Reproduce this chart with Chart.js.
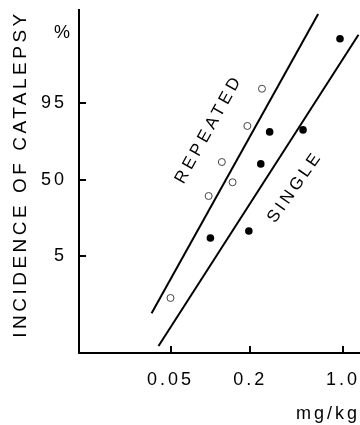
<!DOCTYPE html>
<html>
<head>
<meta charset="utf-8">
<script src="https://cdn.jsdelivr.net/npm/chart.js@4.4.0/dist/chart.umd.min.js"></script>
<style>
  html, body { margin: 0; padding: 0; background: #fff; }
  canvas { display: block; }
</style>
</head>
<body>
<canvas id="catalepsy" width="360" height="425"></canvas>
<script>
// dose (mg/kg) and incidence (%)
var repeatedDose = [0.05, 0.097, 0.122, 0.147, 0.19, 0.245];
var repeatedPct = [0.56, 36.5, 65, 48, 87.7, 97.5];
var singleDose = [0.1, 0.195, 0.24, 0.28, 0.5, 0.95];
var singlePct = [10.6, 13.6, 63.5, 84.9, 85.9, 99.88];

// end points of the two fitted lines
var repeatedLineDose = [0.036, 0.65];
var repeatedLinePct = [0.21, 99.982];
var singleLineDose = [0.0406, 1.31];
var singleLinePct = [0.018, 99.91];

var xTicks = [0.05, 0.2, 1.0];
var xTickLabels = ["0.05", "0.2", "1.0"];
var yTicks = [5, 50, 95];
var yTickLabels = ["5", "50", "95"];

// inverse of the normal cdf (Acklam), used by the probit axis
function probit(pct) {
  var p = pct / 100;
  var a = [-39.69683028665376, 220.9460984245205, -275.9285104469687, 138.3577518672690, -30.66479806614716, 2.506628277459239];
  var b = [-54.47609879822406, 161.5858368580409, -155.6989798598866, 66.80131188771972, -13.28068155288572];
  var c = [-0.007784894002430293, -0.3223964580411365, -2.400758277161838, -2.549732539343734, 4.374664141464968, 2.938163982698783];
  var d = [0.007784695709041462, 0.3224671290700398, 2.445134137142996, 3.754408661907416];
  var q, r;
  if (p < 0.02425) {
    q = Math.sqrt(-2 * Math.log(p));
    return (((((c[0]*q+c[1])*q+c[2])*q+c[3])*q+c[4])*q+c[5]) / ((((d[0]*q+d[1])*q+d[2])*q+d[3])*q+1);
  }
  if (p > 1 - 0.02425) {
    q = Math.sqrt(-2 * Math.log(1 - p));
    return -(((((c[0]*q+c[1])*q+c[2])*q+c[3])*q+c[4])*q+c[5]) / ((((d[0]*q+d[1])*q+d[2])*q+d[3])*q+1);
  }
  q = p - 0.5;
  r = q * q;
  return (((((a[0]*r+a[1])*r+a[2])*r+a[3])*r+a[4])*r+a[5])*q / (((((b[0]*r+b[1])*r+b[2])*r+b[3])*r+b[4])*r+1);
}

function normCdf(z) {
  var t = 1 / (1 + 0.2316419 * Math.abs(z));
  var y = 0.3989423 * Math.exp(-z * z / 2) * t * (0.3193815 + t * (-0.3565638 + t * (1.781478 + t * (-1.821256 + t * 1.330274))));
  return z > 0 ? 1 - y : y;
}

class ProbitScale extends Chart.Scale {
  determineDataLimits() {
    this.min = this.options.min;
    this.max = this.options.max;
  }
  buildTicks() {
    return yTicks.map(function (v) { return { value: v }; });
  }
  configure() {
    super.configure();
    this._zStart = probit(this.min);
    this._zRange = probit(this.max) - this._zStart;
  }
  getPixelForValue(value) {
    return this.getPixelForDecimal((probit(value) - this._zStart) / this._zRange);
  }
  getValueForPixel(pixel) {
    return 100 * normCdf(this._zStart + this.getDecimalForPixel(pixel) * this._zRange);
  }
  getLabelForValue(value) {
    return String(value);
  }
}
ProbitScale.id = "probit";
ProbitScale.defaults = {};
Chart.register(ProbitScale);

function pairs(xs, ys) {
  return xs.map(function (x, i) { return { x: x, y: ys[i] }; });
}

Chart.defaults.font.family = "'Liberation Sans', Arial, sans-serif";
Chart.defaults.color = "#000";

// ticks point inwards, the axis title and the curve names are drawn here
var decorations = {
  id: "decorations",
  beforeDraw: function (chart) {
    chart.ctx.letterSpacing = "3px";
  },
  afterDraw: function (chart) {
    var ctx = chart.ctx;
    var area = chart.chartArea;
    var xs = chart.scales.x;
    var ys = chart.scales.y;
    ctx.save();
    ctx.strokeStyle = "#000";
    ctx.lineWidth = 2;
    ctx.beginPath();
    xTicks.forEach(function (v) {
      var px = Math.round(xs.getPixelForValue(v));
      ctx.moveTo(px, area.bottom);
      ctx.lineTo(px, area.bottom - 7);
    });
    yTicks.forEach(function (v) {
      var py = Math.round(ys.getPixelForValue(v));
      ctx.moveTo(area.left, py);
      ctx.lineTo(area.left + 7, py);
    });
    ctx.stroke();

    ctx.fillStyle = "#000";
    ctx.font = "18px 'Liberation Sans', Arial, sans-serif";
    ctx.textAlign = "center";
    ctx.textBaseline = "middle";
    ctx.letterSpacing = "0px";
    ctx.fillText("%", 62, 33);

    ctx.font = "19px 'Liberation Sans', Arial, sans-serif";
    ctx.letterSpacing = "3.5px";
    ctx.save();
    ctx.translate(21, 174);
    ctx.rotate(-Math.PI / 2);
    ctx.fillText("INCIDENCE OF CATALEPSY", 0, 0);
    ctx.restore();

    ctx.font = "17px 'Liberation Sans', Arial, sans-serif";
    ctx.letterSpacing = "4px";
    ctx.save();
    ctx.translate(209, 129);
    ctx.rotate(-61 * Math.PI / 180);
    ctx.fillText("REPEATED", 0, 0);
    ctx.restore();

    ctx.letterSpacing = "3.5px";
    ctx.save();
    ctx.translate(295, 187);
    ctx.rotate(-55 * Math.PI / 180);
    ctx.fillText("SINGLE", 0, 0);
    ctx.restore();
    ctx.restore();
  }
};

new Chart("catalepsy", {
  type: "scatter",
  data: {
    datasets: [
      {
        label: "repeated",
        data: pairs(repeatedDose, repeatedPct),
        pointRadius: 3.5,
        pointBackgroundColor: "#fff",
        pointBorderColor: "#444",
        pointBorderWidth: 1
      },
      {
        label: "single",
        data: pairs(singleDose, singlePct),
        pointRadius: 3.8,
        pointBackgroundColor: "#000",
        pointBorderColor: "#000",
        pointBorderWidth: 0
      },
      {
        label: "repeated fit",
        data: pairs(repeatedLineDose, repeatedLinePct),
        showLine: true,
        pointRadius: 0,
        borderColor: "#000",
        borderWidth: 2
      },
      {
        label: "single fit",
        data: pairs(singleLineDose, singleLinePct),
        showLine: true,
        pointRadius: 0,
        borderColor: "#000",
        borderWidth: 2
      }
    ]
  },
  options: {
    responsive: false,
    animation: false,
    devicePixelRatio: 1,
    layout: { autoPadding: false, padding: { top: 10, right: 0, bottom: 0, left: 0 } },
    plugins: {
      legend: { display: false },
      tooltip: { enabled: false }
    },
    scales: {
      x: {
        type: "logarithmic",
        min: 0.0102,
        max: 1.345,
        afterBuildTicks: function (scale) {
          scale.ticks = xTicks.map(function (v) { return { value: v }; });
        },
        afterFit: function (scale) {
          scale.height = 72;
          scale.paddingLeft = 0;
          scale.paddingRight = 0;
        },
        grid: { display: false, drawTicks: false },
        border: { display: true, color: "#000", width: 2 },
        ticks: {
          padding: 16,
          maxRotation: 0,
          autoSkip: false,
          font: { size: 18 },
          callback: function (value, i) { return xTickLabels[i]; }
        },
        title: {
          display: true,
          text: "mg/kg",
          align: "end",
          font: { size: 18 },
          padding: { top: 0, bottom: 0 }
        }
      },
      y: {
        type: "probit",
        min: 0.01,
        max: 99.987,
        afterFit: function (scale) {
          scale.width = 79;
          scale.paddingTop = 0;
          scale.paddingBottom = 0;
        },
        grid: { display: false, drawTicks: false },
        border: { display: true, color: "#000", width: 2 },
        ticks: {
          padding: 12,
          font: { size: 18 },
          callback: function (value, i) { return yTickLabels[i]; }
        }
      }
    }
  },
  plugins: [decorations]
});
</script>
</body>
</html>
